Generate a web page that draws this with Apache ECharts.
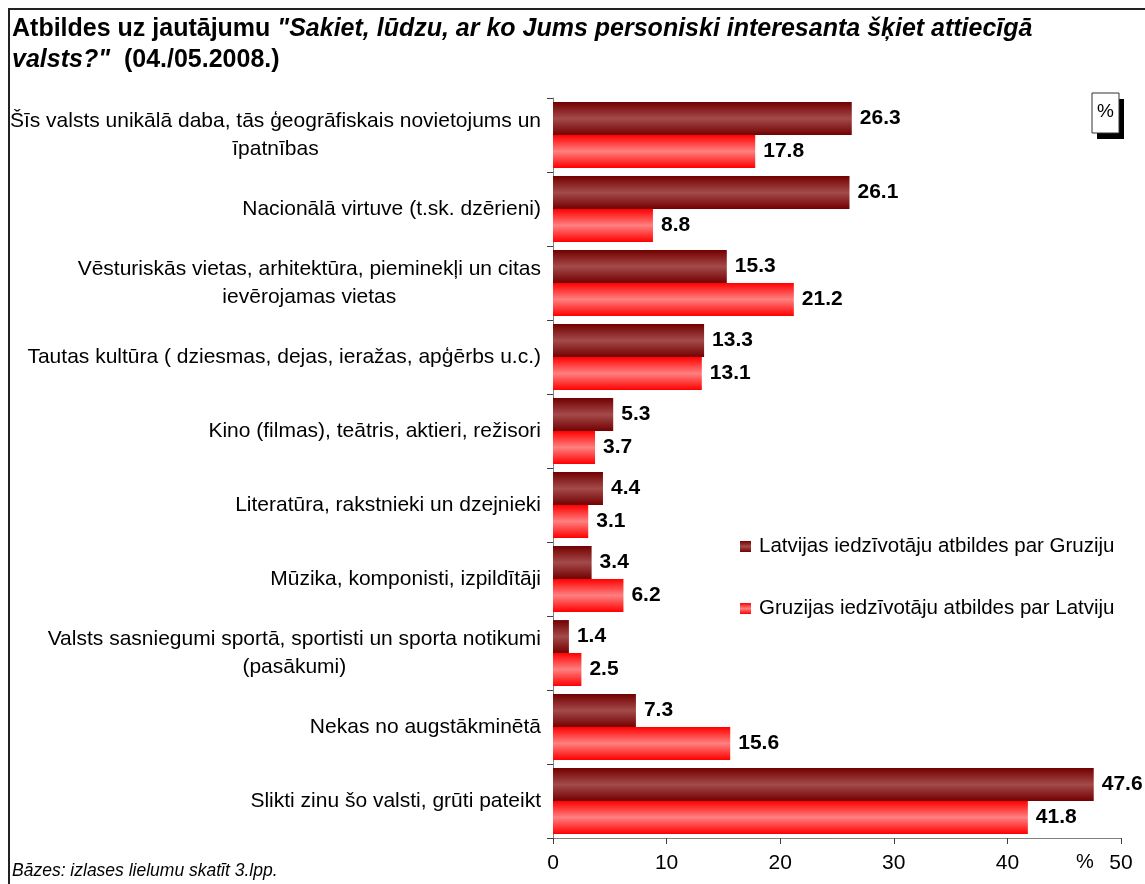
<!DOCTYPE html>
<html>
<head>
<meta charset="utf-8">
<script src="https://cdn.jsdelivr.net/npm/echarts@6/dist/echarts.min.js"></script>
<style>
html,body{margin:0;padding:0;background:#fff;}
#chart{width:1145px;height:884px;}
</style>
</head>
<body>
<div id="chart"></div>
<script>
const categories = [
  ["Šīs valsts unikālā daba, tās ģeogrāfiskais novietojums un", "īpatnības"],
  ["Nacionālā virtuve (t.sk. dzērieni)"],
  ["Vēsturiskās vietas, arhitektūra, pieminekļi un citas", "ievērojamas vietas"],
  ["Tautas kultūra ( dziesmas, dejas, ieražas, apģērbs u.c.)"],
  ["Kino (filmas), teātris, aktieri, režisori"],
  ["Literatūra, rakstnieki un dzejnieki"],
  ["Mūzika, komponisti, izpildītāji"],
  ["Valsts sasniegumi sportā, sportisti un sporta notikumi", "(pasākumi)"],
  ["Nekas no augstākminētā"],
  ["Slikti zinu šo valsti, grūti pateikt"]
];
const seriesNames = [
  "Latvijas iedzīvotāju atbildes par Gruziju",
  "Gruzijas iedzīvotāju atbildes par Latviju"
];
const latviaAboutGeorgia = [26.3, 26.1, 15.3, 13.3, 5.3, 4.4, 3.4, 1.4, 7.3, 47.6];
const georgiaAboutLatvia = [17.8, 8.8, 21.2, 13.1, 3.7, 3.1, 6.2, 2.5, 15.6, 41.8];
const xTicks = [0, 10, 20, 30, 40, 50];

const FONT = '"Liberation Sans", Arial, sans-serif';

function grad(edge, mid) {
  return new echarts.graphic.LinearGradient(0, 0, 0, 1, [
    {offset: 0, color: edge},
    {offset: 0.5, color: mid},
    {offset: 1, color: edge}
  ]);
}

const chart = echarts.init(document.getElementById('chart'), null, {renderer: 'canvas'});

const labelStyle = {show: true, position: 'right', distance: 8, fontFamily: FONT, fontSize: 21, fontWeight: 'bold', color: '#000',
  formatter: p => p.value.toFixed(1)};

const option = {
  backgroundColor: '#fff',
  animation: false,
  textStyle: {fontFamily: FONT},
  title: {
    left: 7,
    top: 9,
    text: '{b|Atbildes uz jautājumu }{bi|"Sakiet, lūdzu, ar ko Jums personiski interesanta šķiet attiecīgā}\n{bi|valsts?"}{b|  (04./05.2008.)}',
    textStyle: {
      rich: {
        b: {fontFamily: FONT, fontSize: 25, fontWeight: 'bold', color: '#000', lineHeight: 31},
        bi: {fontFamily: FONT, fontSize: 25, fontWeight: 'bold', fontStyle: 'italic', color: '#000', lineHeight: 31}
      }
    }
  },
  legend: {
    orient: 'vertical',
    left: 735,
    top: 531,
    itemGap: 41,
    itemWidth: 11,
    itemHeight: 11,
    icon: 'rect',
    textStyle: {fontFamily: FONT, fontSize: 20.5, color: '#000', padding: [0, 0, 0, 3]},
    data: seriesNames
  },
  grid: {left: 553, right: 24, top: 98, bottom: 46, containLabel: false},
  xAxis: {
    type: 'value',
    min: 0,
    max: 50,
    interval: 10,
    axisLine: {show: true, lineStyle: {color: '#808080', width: 1}},
    axisTick: {show: true, length: 6, lineStyle: {color: '#404040'}},
    splitLine: {show: false},
    axisLabel: {fontFamily: FONT, fontSize: 21, color: '#000', margin: 15,
      formatter: function (v) { return xTicks.indexOf(v) >= 0 ? String(v) : ''; }}
  },
  yAxis: {
    type: 'category',
    inverse: true,
    data: categories.map(c => c.join('\n')),
    axisLine: {show: true, lineStyle: {color: '#808080', width: 1}},
    axisTick: {show: true, length: 6, lineStyle: {color: '#404040'}},
    axisLabel: {
      margin: 12,
      align: 'right',
      formatter: function (v, i) {
        const c = categories[i];
        if (c.length === 1) return '{a|' + c[0] + '}';
        const style = i === 7 ? 'd' : 'c';
        return '{a|' + c[0] + '}\n{' + style + '|' + c[1] + '}';
      },
      rich: {
        a: {fontFamily: FONT, fontSize: 21, color: '#000', lineHeight: 28},
        c: {fontFamily: FONT, fontSize: 21, color: '#000', lineHeight: 28, width: 410, align: 'center'},
        d: {fontFamily: FONT, fontSize: 21, color: '#000', lineHeight: 28, width: 464, align: 'center'}
      }
    }
  },
  series: [
    {
      name: seriesNames[0],
      type: 'bar',
      data: latviaAboutGeorgia,
      barGap: '0%',
      barCategoryGap: '11%',
      itemStyle: {color: grad('#730000', '#a34a4a')},
      label: labelStyle
    },
    {
      name: seriesNames[1],
      type: 'bar',
      data: georgiaAboutLatvia,
      barGap: '0%',
      barCategoryGap: '11%',
      itemStyle: {color: grad('#ff0000', '#ff8080')},
      label: labelStyle
    }
  ],
  graphic: [
    {type: 'rect', silent: true, z: 100,
      shape: {x: 9, y: 9, width: 1300, height: 1000},
      style: {fill: null, stroke: '#222', lineWidth: 2}},
    {type: 'rect', silent: true, z: 100,
      shape: {x: 1097, y: 99, width: 27, height: 40},
      style: {fill: '#000'}},
    {type: 'rect', silent: true, z: 101,
      shape: {x: 1092, y: 93, width: 27, height: 40},
      style: {fill: '#fff', stroke: '#333', lineWidth: 1}},
    {type: 'text', silent: true, z: 102, x: 1105.5, y: 112,
      style: {text: '%', fontFamily: FONT, fontSize: 19, fill: '#000', align: 'center', verticalAlign: 'middle'}},
    {type: 'text', silent: true, z: 102, x: 1085, y: 862,
      style: {text: '%', fontFamily: FONT, fontSize: 20, fill: '#000', align: 'center', verticalAlign: 'middle'}},
    {type: 'text', silent: true, z: 102, x: 12, y: 871,
      style: {text: 'Bāzes: izlases lielumu skatīt 3.lpp.', fontFamily: FONT, fontSize: 17.5, fontStyle: 'italic', fill: '#000', verticalAlign: 'middle'}}
  ]
};
chart.setOption(option);
</script>
</body>
</html>
